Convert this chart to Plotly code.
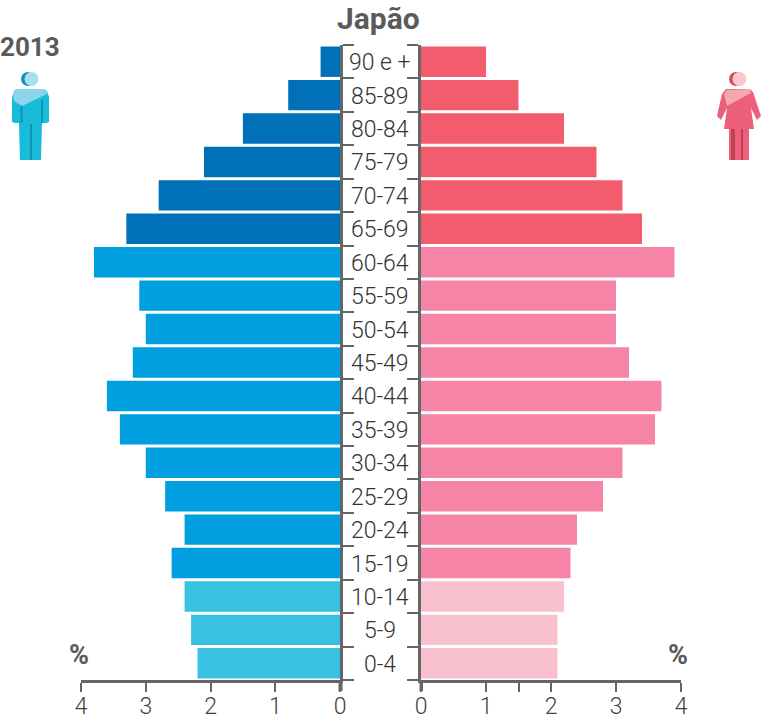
import plotly.graph_objects as go

W, H = 761, 720
AGES = ["90 e +","85-89","80-84","75-79","70-74","65-69","60-64","55-59","50-54","45-49","40-44","35-39","30-34","25-29","20-24","15-19","10-14","5-9","0-4"]
MEN = [0.3,0.8,1.5,2.1,2.8,3.3,3.8,3.1,3.0,3.2,3.6,3.4,3.0,2.7,2.4,2.6,2.4,2.3,2.2]
WOMEN = [1.0,1.5,2.2,2.7,3.1,3.4,3.9,3.0,3.0,3.2,3.7,3.6,3.1,2.8,2.4,2.3,2.2,2.1,2.1]
MEN_COLORS = ["#0070B8"]*6 + ["#009FE0"]*10 + ["#38C1E0"]*3
WOMEN_COLORS = ["#F25C6C"]*6 + ["#F584A6"]*10 + ["#F9C0D0"]*3
X_TICKS = [0,1,2,3,4]
X_TICKS_RIGHT = [0,1,1.5,2,3,4]
X_LABELS_RIGHT = ["0","1","","2","3","4"]
GREY = "#666666"
FONT = "Roboto"

def px(x): return x / W
def py(y): return 1 - y / H
def path(points):
    return "M" + " L".join(f"{px(x):.5f},{py(y):.5f}" for x, y in points) + " Z"

fig = go.Figure()
POS = list(range(len(AGES)))
fig.add_trace(go.Bar(y=POS, x=MEN, orientation="h", marker=dict(color=MEN_COLORS, line_width=0),
                     xaxis="x", yaxis="y", width=0.91, showlegend=False))
fig.add_trace(go.Bar(y=POS, x=WOMEN, orientation="h", marker=dict(color=WOMEN_COLORS, line_width=0),
                     xaxis="x2", yaxis="y2", width=0.91, showlegend=False))

ydom = [py(680), py(45)]
edges = [i - 0.5 for i in range(len(AGES) + 1)]
yrange = [len(AGES) - 0.5, -0.5]
ycommon = dict(type="linear", range=yrange, domain=ydom, showgrid=False, zeroline=False, showline=True,
               linecolor=GREY, linewidth=3, ticks="outside", ticklen=11, tickwidth=2, tickcolor=GREY,
               tickmode="array", tickvals=edges, ticktext=[""] * len(edges), showticklabels=False)
xcommon = dict(showgrid=False, zeroline=False, showline=True, linecolor=GREY, linewidth=3,
               ticks="outside", ticklen=9, tickwidth=1.5, tickcolor=GREY, tickmode="array", ticklabelstandoff=-6,
               tickfont=dict(family=FONT, size=23, color="#3F3F3F", weight=300))
fig.update_layout(
    width=W, height=H, margin=dict(l=0, r=0, t=0, b=0, autoexpand=False), paper_bgcolor="white",
    plot_bgcolor="rgba(0,0,0,0)", bargap=0.09, showlegend=False,
    xaxis=dict(domain=[px(81), px(340)], range=[4, 0], anchor="y", tickvals=X_TICKS,
               ticktext=[str(v) for v in X_TICKS], **xcommon),
    xaxis2=dict(domain=[px(421), px(681)], range=[0, 4], anchor="y2", tickvals=X_TICKS_RIGHT,
                ticktext=X_LABELS_RIGHT, **xcommon),
    yaxis=dict(anchor="x", side="right", **ycommon),
    yaxis2=dict(anchor="x2", side="left", **ycommon),
)

for i, a in enumerate(AGES):
    fig.add_annotation(text=a, xref="paper", x=px(380), yref="y", y=i, yshift=-1, showarrow=False,
                       font=dict(family=FONT, size=23, color="#333333", weight=300),
                       xanchor="center", yanchor="middle")
def label(t, x, y, size):
    fig.add_annotation(text=f"<b>{t}</b>", xref="paper", yref="paper", x=px(x), y=py(y), showarrow=False,
                       font=dict(family=FONT, size=size, color="#5A5A5A"), xanchor="center", yanchor="middle")
label("Japão", 378, 18, 30)
label("2013", 30, 47, 26)
label("%", 79, 655, 27)
label("%", 678, 655, 27)

shapes = []
def add(points, color):
    shapes.append(dict(type="path", xref="paper", yref="paper", path=path(points), fillcolor=color, line_width=0, layer="above"))
def circle(cx, cy, r, color):
    shapes.append(dict(type="circle", xref="paper", yref="paper", x0=px(cx-r), x1=px(cx+r), y0=py(cy+r), y1=py(cy-r),
                       fillcolor=color, line_width=0, layer="above"))
# heavier stubs of the y axes below the baseline
add([(338.5,680),(338.5,691),(342.5,691),(342.5,680)], GREY)
add([(419.5,680),(419.5,691),(423,691),(423,680)], GREY)
# male icon
add([(12,97),(15,90),(19,89),(44,89),(47,91),(49,97),(49,122),(46,123),(42,123),(41,160),(20,160),(19,123),(15,123),(12,122)], "#18BCD8")
add([(20.5,100),(20.5,123),(22.5,123),(22.5,100)], "#0F93B4")
add([(41,100),(41,123),(43,123),(43,100)], "#0F93B4")
add([(30,124),(30,160),(32,160),(32,124)], "#0F93B4")
add([(13,96),(15,91),(19,89),(44,89),(47,92),(47,94),(22,106),(14,101)], "#8CD3EC")
circle(28, 79, 7, "#0F93B4")
circle(31.5, 79, 7, "#A9DDF2")
# female icon
add([(726,89),(750,89),(753,92),(761,116),(757,120),(751,108),(754,129),(749,129),(749,160),(729,160),(729,129),(724,129),(727,108),(721,120),(717,116),(722,94)], "#EC6079")
add([(731,129),(731,160),(735,160),(735,129)], "#BE3F58")
add([(741,129),(741,160),(743,160),(743,129)], "#BE3F58")
add([(727,106),(724,94),(727,90),(750,89),(751,93)], "#F6A8B2")
circle(736, 79, 7, "#D9475F")
circle(739.5, 79, 7, "#FAC8CE")
fig.update_layout(shapes=shapes)
fig.write_html("out.html", post_script="document.body.style.margin='0';", config={"displayModeBar": False})
